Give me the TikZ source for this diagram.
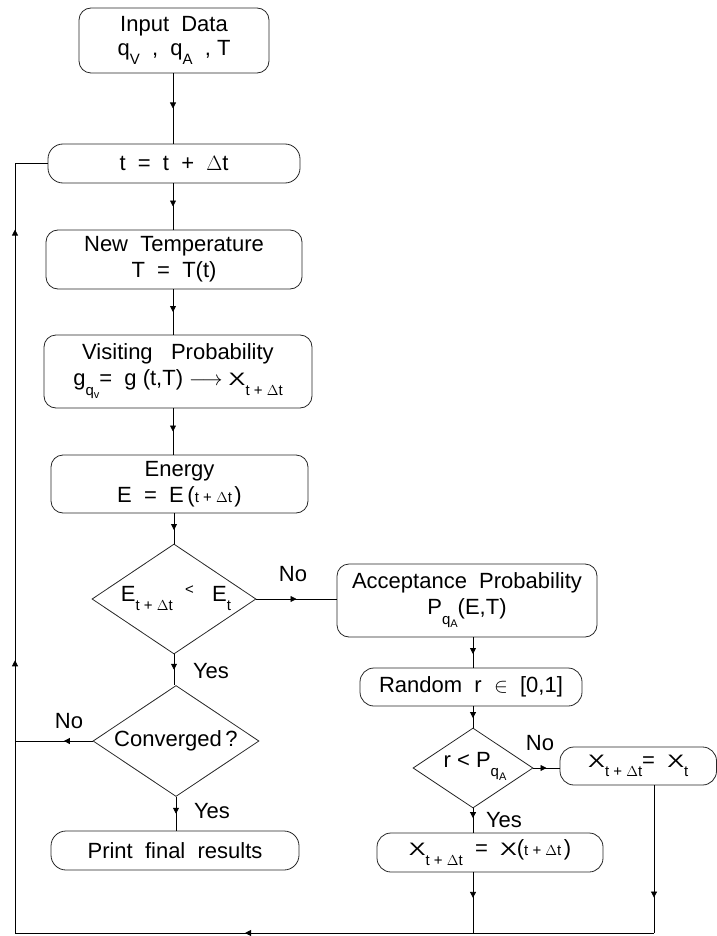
\documentclass[tikz,border=0pt]{standalone}
\usepackage{fontspec}
\usepackage{graphicx}
\setmainfont{Liberation Sans}
\usetikzlibrary{shapes.geometric,arrows.meta,decorations.markings}

% lowered subscripts in the text font
\newcommand{\lowsub}[1]{\raisebox{-0.42em}{\fontsize{15}{15}\selectfont #1}}
\newcommand{\tinysub}[1]{\raisebox{-0.25em}{\fontsize{11}{11}\selectfont #1}}
% wide, flat X used for the state variable
\newcommand{\wideX}{\scalebox{1.4}[1]{\fontsize{18}{18}\selectfont X}}

\tikzset{
  box/.style={draw=black!85, line width=0.8pt, rounded corners=12pt, inner sep=0pt,
    align=center, font=\fontsize{22}{26}\selectfont},
  decision/.style={draw=black!85, line width=0.8pt, diamond, inner sep=0pt},
  lbl/.style={inner sep=0pt, font=\fontsize{22}{26}\selectfont},
  conn/.style={line width=0.8pt},
  arrowat/.style={postaction={decorate}, decoration={markings,
    mark=at position #1 with {\arrow{Triangle[length=6pt,width=6pt]}}}},
  arrowsat/.style 2 args={postaction={decorate}, decoration={markings,
    mark=at position #1 with {\arrow{Triangle[length=6pt,width=6pt]}},
    mark=at position #2 with {\arrow{Triangle[length=6pt,width=6pt]}}}},
}

\begin{document}
\begin{tikzpicture}[x=1pt,y=-1pt]
\useasboundingbox (0,0) rectangle (716,936);

% main column
\node[box, minimum width=190pt, minimum height=65pt] (inp) at (174,40.5)
  {Input\ \ Data\\[-2pt]q\lowsub{V}\ \ ,\ \ q\lowsub{A}\ \ ,\ T};
\node[box, minimum width=252pt, minimum height=39pt, rounded corners=15pt] (tb) at (174,163.5)
  {t\ \ =\ \ t\ \ +\ \ $\Delta$t};
\node[box, minimum width=256pt, minimum height=59pt] (nt) at (174,259.5)
  {New\ \ Temperature\\T\ \ =\ \ T(t)};
\node[box, minimum width=268pt, minimum height=73pt] (vp) at (178,371.5)
  {Visiting\ \ \ Probability\\g\lowsub{q\tinysub{v}}=\ \ g (t,T) $\longrightarrow$ \wideX\lowsub{t + $\Delta$t}};
\node[box, minimum width=257pt, minimum height=58pt] (en) at (179.5,484)
  {Energy\\E\ \ =\ \ E\,({\fontsize{15}{15}\selectfont t + $\Delta$t\,})};
\node[decision, minimum width=164pt, minimum height=110pt] (d1) at (174,599) {};
\node[lbl] (d1t) at (176,598) {E\lowsub{t + $\Delta$t}\ \ \raisebox{0.3em}{\fontsize{15}{15}\selectfont <}\ \ \ E\lowsub{t}};
\node[decision, minimum width=166pt, minimum height=111pt] (d2) at (176,741) {};
\node[lbl] (d2t) at (176,741) {Converged\,?};
\node[box, minimum width=248pt, minimum height=39pt, rounded corners=15pt] (pr) at (175,850.5)
  {Print\ \ final\ \ results};

% right column
\node[box, minimum width=260pt, minimum height=73pt] (acc) at (467,600.5)
  {Acceptance\ \ Probability\\P\lowsub{q\tinysub{A}}(E,T)};
\node[box, minimum width=222pt, minimum height=38pt, rounded corners=14pt] (rnd) at (471,687)
  {Random\ \ r\ \ $\in$\ \ [0,1]};
\node[decision, minimum width=120pt, minimum height=80pt] (d3) at (473,768) {};
\node[lbl] (d3t) at (475,766) {r < P\lowsub{q\tinysub{A}}};
\node[box, minimum width=156.5pt, minimum height=38pt, rounded corners=14pt] (xt) at (638.25,766)
  {\wideX\lowsub{t + $\Delta$t}=\ \ \wideX\lowsub{t}};
\node[box, minimum width=226pt, minimum height=39pt, rounded corners=14pt] (xn) at (490,852.5)
  {\wideX\lowsub{t + $\Delta$t}\ \ =\ \ \wideX({\fontsize{15}{15}\selectfont t + $\Delta$t\,})};

% branch labels
\node[lbl] (no1) at (293,574) {No};
\node[lbl] (yes1) at (211,671) {Yes};
\node[lbl] (no2) at (69,721) {No};
\node[lbl] (yes2) at (212,811) {Yes};
\node[lbl] (no3) at (540,743) {No};
\node[lbl] (yes3) at (504,820) {Yes};

% helper points of the return loop
\coordinate (col) at (173,0);
\coordinate (bl) at (15,933);
\coordinate (br) at (654,933);
\coordinate (lt) at (15,163.5);

% forward flow
\draw[conn, arrowat=0.5] (inp.south -| col) -- (tb.north -| col);
\draw[conn, arrowat=0.5] (tb.south -| col) -- (nt.north -| col);
\draw[conn, arrowat=0.5] (nt.south -| col) -- (vp.north -| col);
\draw[conn, arrowat=0.5] (vp.south -| col) -- (en.north -| col);
\draw[conn, arrowat=0.55] (en.south -| d1) -- (d1.north);
\draw[conn, arrowat=0.5] (d1.east) -- (d1.east -| acc.west);
\draw[conn, arrowat=0.5] (d1.south) -- (d1.south |- d2.north);
\draw[conn, arrowat=0.5] (d2.south) -- (d2.south |- pr.north);
\draw[conn, arrowat=0.55] (acc.south -| d3) -- (rnd.north -| d3);
\draw[conn, arrowat=0.55] (rnd.south -| d3) -- (d3.north);
\draw[conn, arrowat=0.5] (d3.east) -- (d3.east -| xt.west);
\draw[conn, arrowat=0.4] (d3.south) -- (d3.south |- xn.north);

% return loop
\draw[conn, arrowat=0.42] (xn.south -| d3) -- (d3 |- bl);
\draw[conn, arrowat=0.76] (br |- xt.south) -- (br);
\draw[conn, arrowat=0.64] (br) -- (bl);
\draw[conn, arrowat=0.37] (d2.west) -- (d2.west -| bl);
\draw[conn, arrowsat={0.34}{0.877}] (bl) -- (lt) -- (tb.west);
\end{tikzpicture}
\end{document}
